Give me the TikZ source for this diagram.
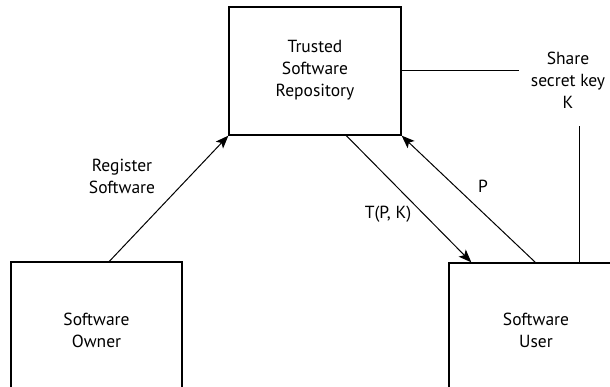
\documentclass[tikz,border=0pt]{standalone}
\usepackage{fontspec}
\setmainfont{PT Sans}
\usetikzlibrary{arrows.meta,calc}
\begin{document}
\begin{tikzpicture}[x=1pt,y=-1pt,
  box/.style={draw,line width=1.3pt,minimum width=#1,inner sep=0pt},
  lbl/.style={align=center,font=\fontsize{17.5}{22}\selectfont,inner sep=0pt},
  conn/.style={line width=1pt},
  arr/.style={conn,-{Stealth[length=13pt,width=10pt,inset=3pt]}}]
\useasboundingbox (0,0) rectangle (610,387);
\clip (0,0) rectangle (610,387);
\node[box=172pt,minimum height=128pt] (repo) at (315,71) {};
\node[box=171pt,minimum height=140pt] (owner) at (96.5,332) {};
\node[box=171pt,minimum height=140pt] (user) at (534.5,333) {};
\node[lbl] (repot) at (315,70) {Trusted\\Software\\Repository};
\node[lbl] (ownert) at (96.5,330) {Software\\Owner};
\node[lbl] (usert) at (536,330) {Software\\User};
\node[lbl] (reg) at (122,176) {Register\\Software};
\node[lbl] (tpk) at (388,214) {T(P, K)};
\node[lbl] (p) at (483,186) {P};
\node[lbl] (share) at (568,80) {Share\\secret key\\K};
\coordinate (regs) at ($(owner.north west)+(99,0)$);
\coordinate (ts) at ($(repo.south west)+(118,0)$);
\coordinate (te) at ($(user.north west)+(23,0)$);
\coordinate (ps) at ($(user.north west)+(87,0)$);
\coordinate (vs) at ($(user.north west)+(131,0)$);
\coordinate (ve) at ($(user.north west)+(131,-136)$);
\coordinate (he) at ($(repo.east)+(117,0)$);
\draw[arr] (regs) -- (repo.south west);
\draw[arr] (ts) -- (te);
\draw[arr] (ps) -- (repo.south east);
\draw[conn] (repo.east) -- (he);
\draw[conn] (vs) -- (ve);
\end{tikzpicture}
\end{document}
